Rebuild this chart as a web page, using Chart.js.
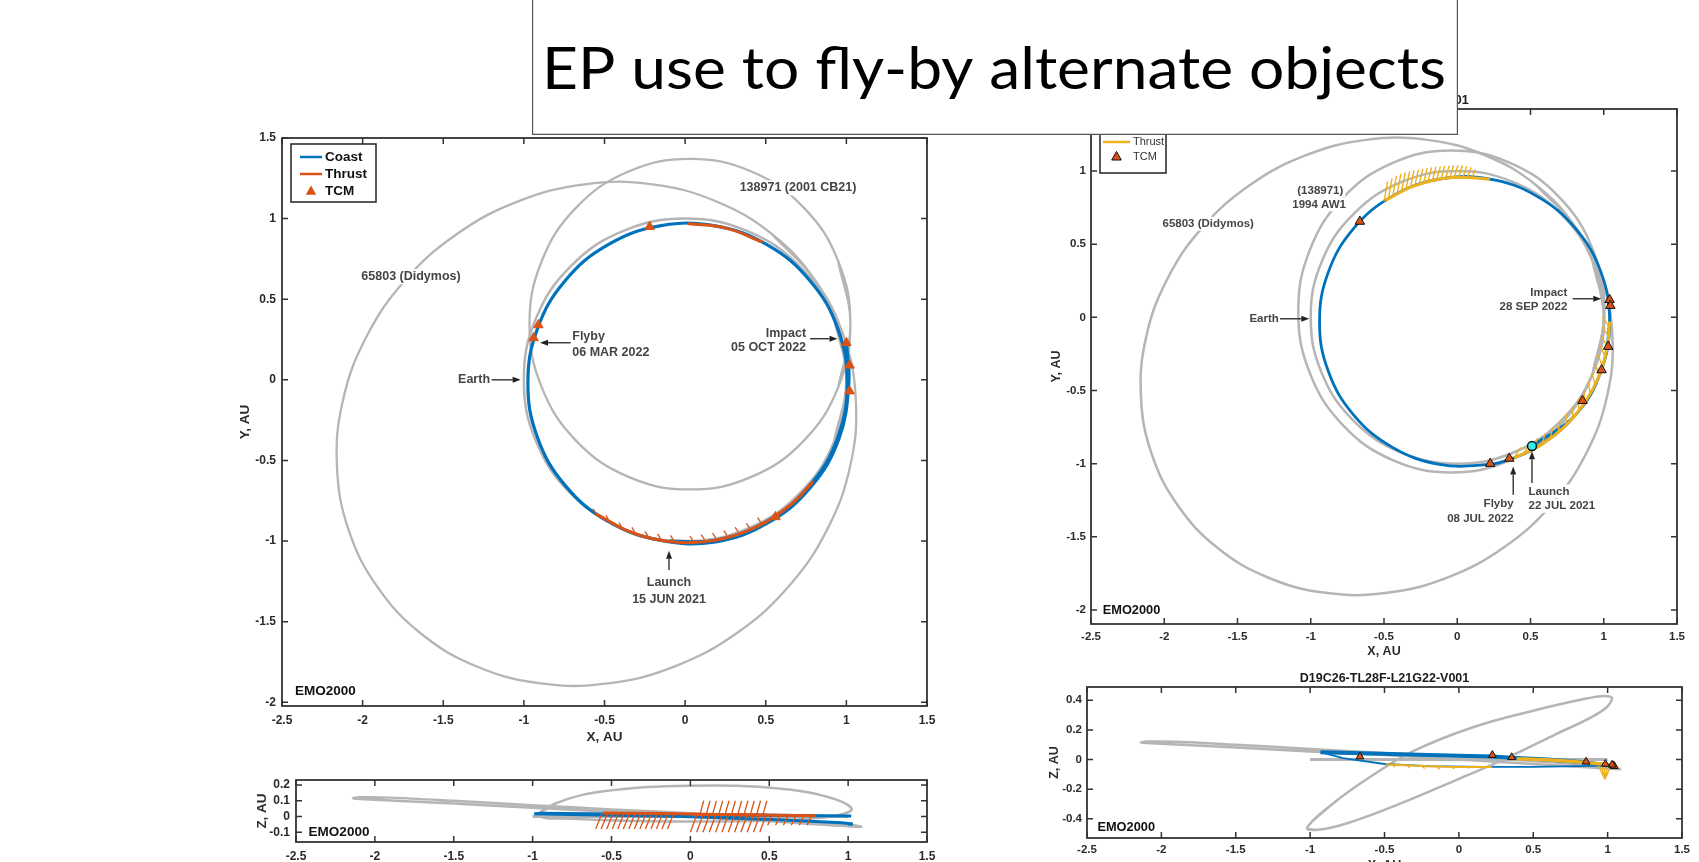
<!DOCTYPE html>
<html>
<head>
<meta charset="utf-8">
<script src="https://cdn.jsdelivr.net/npm/chart.js@4/dist/chart.umd.min.js"></script>
<style>
  html, body { margin: 0; padding: 0; background: #fff; }
  body { width: 1699px; height: 862px; overflow: hidden; position: relative; }
  canvas { position: absolute; }
</style>
</head>
<body>
<canvas id="xyL"></canvas>
<canvas id="xzL"></canvas>
<canvas id="xyR"></canvas>
<canvas id="xzR"></canvas>
<canvas id="head"></canvas>
<script>
// ---- tick labels ----
const xTicks = [-2.5, -2, -1.5, -1, -0.5, 0, 0.5, 1, 1.5];
const yTicksL = [-2, -1.5, -1, -0.5, 0, 0.5, 1, 1.5];
const yTicksR = [-2, -1.5, -1, -0.5, 0, 0.5, 1];
const zTicksL = [-0.1, 0, 0.1, 0.2];
const zTicksR = [-0.4, -0.2, 0, 0.2, 0.4];

// ---- orbits shared by both panels (AU, EMO2000) ----
const earthX = [1.000, 0.924, 0.707, 0.383, 0.000, -0.383, -0.707, -0.924, -1.000, -0.924, -0.707, -0.383, 0.000, 0.383, 0.707, 0.924, 1.000];
const earthY = [0.000, 0.383, 0.707, 0.924, 1.000, 0.924, 0.707, 0.383, 0.000, -0.383, -0.707, -0.924, -1.000, -0.924, -0.707, -0.383, 0.000];
const earthZx = [-1.00, 1.00];
const earthZz = [0.00, 0.00];
const didyX = [0.807, 0.537, 0.190, -0.204, -0.622, -1.036, -1.417, -1.739, -1.979, -2.123, -2.159, -2.086, -1.907, -1.637, -1.292, -0.897, -0.478, -0.064, 0.317, 0.639, 0.879, 1.023, 1.059, 0.986, 0.807];
const didyY = [0.616, 0.905, 1.108, 1.213, 1.213, 1.107, 0.903, 0.615, 0.262, -0.132, -0.540, -0.933, -1.286, -1.575, -1.778, -1.883, -1.883, -1.777, -1.573, -1.285, -0.932, -0.538, -0.131, 0.263, 0.616];
const didyZx = [1.08, 0.50, 0.00, -0.50, -1.00, -1.50, -1.90, -2.10, -2.14, -2.10, -1.90, -1.50, -1.00, -0.50, 0.00, 0.50, 1.00, 1.08];
const didyZz = [-0.065, -0.030, 0.000, 0.030, 0.055, 0.082, 0.102, 0.112, 0.115, 0.122, 0.120, 0.100, 0.072, 0.045, 0.020, -0.010, -0.050, -0.065];

// ---- left panel: 138971 (2001 CB21) ----
const cbX = [1.025, 0.949, 0.734, 0.411, 0.030, -0.351, -0.674, -0.889, -0.965, -0.889, -0.674, -0.351, 0.030, 0.411, 0.734, 0.949, 1.025];
const cbY = [0.345, 0.737, 1.070, 1.292, 1.370, 1.292, 1.070, 0.737, 0.345, -0.047, -0.380, -0.602, -0.680, -0.602, -0.380, -0.047, 0.345];
const cbZx = [-0.96, -0.85, -0.55, 0.00, 0.59, 0.93, 1.02, 0.80, 0.30, -0.30, -0.75, -0.96];
const cbZz = [0.005, 0.085, 0.160, 0.196, 0.175, 0.106, 0.040, -0.010, -0.030, -0.030, -0.015, 0.005];

const coastLX = [-0.100, 0.187, 0.510, 0.773, 0.946, 1.005, 0.946, 0.773, 0.510, 0.187, -0.157, -0.480, -0.743, -0.915, -0.975, -0.915, -0.743, -0.480, -0.157, 0.189, 0.515, 0.781, 0.955, 1.015, 1.000];
const coastLY = [-1.000, -0.995, -0.877, -0.656, -0.359, -0.020, 0.319, 0.616, 0.837, 0.955, 0.955, 0.837, 0.616, 0.319, -0.020, -0.359, -0.656, -0.877, -0.995, -1.005, -0.886, -0.663, -0.362, -0.020, 0.240];
const coastLZx = [-0.10, 0.55, 1.02, 0.55, -0.05, -0.62, -0.94, -0.99, -0.60, -0.05, 0.55, 0.96, 1.03, 1.00];
const coastLZz = [0.008, 0.006, 0.003, 0.008, 0.012, 0.018, 0.020, 0.018, 0.010, 0.000, -0.020, -0.040, -0.048, -0.050];

const thrL1X = [-0.553, -0.324, -0.071, 0.187, 0.433, 0.651, 0.795];
const thrL1Y = [-0.831, -0.950, -1.006, -0.995, -0.917, -0.778, -0.630];
const thrL2X = [0.015, 0.255, 0.480];
const thrL2Y = [0.970, 0.941, 0.854];
const thrL1Zz = [0.022, 0.020, 0.017, 0.013, 0.010, 0.007, 0.005];
const thrL2Zz = [0.012, 0.012, 0.010];

// thrust direction marks (base -> tip)
const hLx0 = [-0.55, -0.47, -0.39, -0.31, -0.23, -0.15, -0.07, 0.05, 0.12, 0.19, 0.26, 0.33, 0.40, 0.47];
const hLy0 = [-0.84, -0.88, -0.92, -0.95, -0.97, -0.99, -1.00, -1.00, -0.99, -0.98, -0.965, -0.945, -0.92, -0.885];
const hLx1 = [-0.57, -0.49, -0.41, -0.33, -0.25, -0.17, -0.09, 0.03, 0.10, 0.17, 0.24, 0.31, 0.38, 0.45];
const hLy1 = [-0.80, -0.84, -0.885, -0.915, -0.94, -0.955, -0.965, -0.97, -0.96, -0.95, -0.935, -0.915, -0.89, -0.855];

const hLZx0 = [-0.56, -0.525, -0.49, -0.455, -0.42, -0.385, -0.35, -0.315, -0.28, -0.245, -0.21, -0.175, -0.14, -0.105,
  0.06, 0.10, 0.14, 0.18, 0.22, 0.26, 0.30, 0.34, 0.38, 0.42, 0.46,
  0.04, 0.08, 0.12, 0.16, 0.20, 0.24, 0.28, 0.32, 0.36, 0.40, 0.44, 0.48,
  0.52, 0.57, 0.62, 0.67, 0.72, 0.77];
const hLZz0 = [0.02, 0.02, 0.02, 0.02, 0.02, 0.02, 0.02, 0.02, 0.02, 0.02, 0.02, 0.02, 0.02, 0.02,
  0.012, 0.012, 0.012, 0.012, 0.012, 0.012, 0.012, 0.012, 0.012, 0.012, 0.012,
  0.01, 0.01, 0.01, 0.01, 0.01, 0.01, 0.01, 0.01, 0.01, 0.01, 0.01, 0.01,
  0.008, 0.008, 0.008, 0.008, 0.008, 0.008];
const hLZx1 = [-0.60, -0.565, -0.53, -0.495, -0.46, -0.425, -0.39, -0.355, -0.32, -0.285, -0.25, -0.215, -0.18, -0.145,
  0.085, 0.125, 0.165, 0.205, 0.245, 0.285, 0.325, 0.365, 0.405, 0.445, 0.485,
  0.00, 0.04, 0.08, 0.12, 0.16, 0.20, 0.24, 0.28, 0.32, 0.36, 0.40, 0.44,
  0.49, 0.54, 0.59, 0.64, 0.69, 0.74];
const hLZz1 = [-0.08, -0.08, -0.08, -0.08, -0.08, -0.08, -0.08, -0.08, -0.08, -0.08, -0.08, -0.08, -0.08, -0.08,
  0.10, 0.10, 0.10, 0.10, 0.10, 0.10, 0.10, 0.10, 0.10, 0.10, 0.10,
  -0.10, -0.10, -0.10, -0.10, -0.10, -0.10, -0.10, -0.10, -0.10, -0.10, -0.10, -0.10,
  -0.055, -0.055, -0.055, -0.055, -0.055, -0.055];

const tcmLX = [-0.22, -0.91, -0.94, 1.00, 1.02, 1.02, 0.56];
const tcmLY = [0.95, 0.34, 0.26, 0.23, 0.09, -0.07, -0.85];

// ---- right panel: (138971) 1994 AW1 ----
const awX = [1.005, 0.926, 0.699, 0.360, -0.040, -0.440, -0.779, -1.006, -1.085, -1.006, -0.779, -0.440, -0.040, 0.360, 0.699, 0.926, 1.005];
const awY = [0.040, 0.461, 0.818, 1.056, 1.140, 1.056, 0.818, 0.461, 0.040, -0.381, -0.738, -0.976, -1.060, -0.976, -0.738, -0.381, 0.040];
const awZx = [-1.02, -0.85, -0.60, -0.30, 0.10, 0.50, 0.85, 0.98, 1.03, 0.95, 0.65, 0.30, 0.00, -0.40, -0.75, -0.95, -1.02];
const awZz = [-0.46, -0.30, -0.12, 0.06, 0.22, 0.33, 0.41, 0.43, 0.41, 0.32, 0.17, 0.00, -0.13, -0.30, -0.43, -0.475, -0.46];

const coastRX = [0.510, 0.808, 0.981, 1.040, 0.981, 0.808, 0.545, 0.222, -0.122, -0.445, -0.708, -0.880, -0.940, -0.880, -0.708, -0.445, -0.122, 0.222, 0.356, 0.545, 0.808, 0.981, 1.040, 1.029];
const coastRY = [-0.880, -0.666, -0.369, -0.030, 0.309, 0.606, 0.827, 0.945, 0.945, 0.827, 0.606, 0.309, -0.030, -0.369, -0.666, -0.887, -1.005, -1.005, -0.971, -0.887, -0.666, -0.369, -0.030, 0.118];
// X-Z view: outbound leg (launch -> far side) and return leg (far side -> impact)
const coastRZax = [0.51, 0.855, 1.04, 0.80, 0.50, 0.17, -0.20, -0.50, -0.78, -0.93];
const coastRZaz = [0.005, -0.020, -0.040, -0.045, -0.050, -0.050, -0.045, -0.030, 0.010, 0.050];
const coastRZbx = [-0.93, -0.72, -0.40, 0.00, 0.225, 0.355, 0.60, 0.855, 1.04];
const coastRZbz = [0.050, 0.045, 0.035, 0.025, 0.020, 0.012, 0.000, -0.020, -0.045];

const thrR1X = [0.389, 0.575, 0.738, 0.871, 0.968, 1.025, 1.040];
const thrR1Y = [-0.961, -0.870, -0.742, -0.583, -0.401, -0.202, -0.030];
const thrR2X = [0.222, -0.036, -0.289, -0.489];
const thrR2Y = [0.945, 0.956, 0.900, 0.800];
const thrR1Zz = [0.005, -0.002, -0.012, -0.022, -0.031, -0.038, -0.042];
const thrR2Zz = [-0.050, -0.050, -0.042, -0.032];

const hRx0 = [-0.50, -0.47, -0.44, -0.41, -0.38, -0.35, -0.32, -0.29, -0.26, -0.23, -0.20, -0.17, -0.14, -0.11, -0.08, -0.05, -0.02, 0.01, 0.04, 0.07, 0.10,
  0.389, 0.453, 0.514, 0.575, 0.632, 0.687, 0.738, 0.786, 0.830, 0.871, 0.907, 0.940, 0.968, 0.991, 1.010, 1.025, 1.035, 1.039];
const hRy0 = [0.793, 0.812, 0.830, 0.847, 0.862, 0.876, 0.888, 0.900, 0.910, 0.920, 0.928, 0.935, 0.942, 0.947, 0.951, 0.955, 0.958, 0.959, 0.960, 0.960, 0.959,
  -0.961, -0.935, -0.904, -0.870, -0.831, -0.788, -0.742, -0.692, -0.640, -0.583, -0.525, -0.464, -0.401, -0.336, -0.270, -0.202, -0.134, -0.065];
const hRx1 = [-0.475, -0.445, -0.415, -0.385, -0.355, -0.325, -0.295, -0.265, -0.235, -0.205, -0.175, -0.145, -0.115, -0.085, -0.055, -0.025, 0.005, 0.035, 0.065, 0.095, 0.125,
  0.433, 0.491, 0.548, 0.603, 0.654, 0.703, 0.748, 0.791, 0.829, 0.864, 0.895, 0.921, 0.944, 0.962, 0.976, 0.985, 0.989, 0.989];
const hRy1 = [0.930, 0.950, 0.965, 0.980, 0.990, 1.000, 1.005, 1.010, 1.015, 1.020, 1.025, 1.030, 1.030, 1.035, 1.035, 1.040, 1.040, 1.040, 1.035, 1.025, 1.010,
  -0.889, -0.860, -0.827, -0.790, -0.750, -0.706, -0.659, -0.609, -0.555, -0.500, -0.442, -0.383, -0.320, -0.257, -0.194, -0.129, -0.063, 0.003];

const hRZx0 = [0.94, 0.96, 0.98, 1.00, 1.02, -0.45, -0.35, -0.25, -0.15, -0.05, 0.05];
const hRZz0 = [-0.045, -0.045, -0.048, -0.050, -0.050, -0.033, -0.038, -0.043, -0.047, -0.049, -0.050];
const hRZx1 = [0.975, 0.978, 0.980, 0.983, 0.988, -0.43, -0.33, -0.23, -0.13, -0.03, 0.07];
const hRZz1 = [-0.120, -0.130, -0.135, -0.130, -0.120, -0.050, -0.055, -0.060, -0.065, -0.062, -0.058];

const tcmRX = [-0.665, 1.04, 1.045, 1.03, 0.985, 0.855, 0.225, 0.355];
const tcmRY = [0.655, 0.12, 0.08, -0.20, -0.36, -0.57, -1.00, -0.965];
const tcmRZz = [0.020, -0.040, -0.045, -0.035, -0.030, -0.015, 0.030, 0.015];
const launchRX = [0.51];
const launchRY = [-0.88];

// ---- styling ----
const FONT = '"Liberation Sans", Arial, sans-serif';
const GREY = '#b5b5b5', BLUE = '#0072bd', ORANGE = '#d95319', YELLOW = '#edb120', INK = '#2b2b2b';

const pts = (xs, ys) => xs.map((x, i) => ({x, y: ys[i]}));
// closed orbit: repeat a neighbour at each end so the spline has no corner where it closes
const ring = (xs, ys) => { const p = pts(xs, ys); return [p[p.length - 2], ...p, p[1]]; };
const segs = (x0, y0, x1, y1) => {
  const out = [];
  x0.forEach((x, i) => out.push({x, y: y0[i]}, {x: x1[i], y: y1[i]}, {x: x1[i], y: null}));
  return out;
};
const line = (data, color, width, tension) => ({
  data, showLine: true, borderColor: color, borderWidth: width, pointRadius: 0,
  tension: tension || 0, fill: false
});
const marks = (data, style, r, fill, edge, bw) => ({
  data, showLine: false, pointStyle: style, pointRadius: r, backgroundColor: fill,
  borderColor: edge, borderWidth: bw
});

function axis(dir, min, max, ticks, size, pad, title, fs, tfs) {
  return {
    type: 'linear', position: dir === 'x' ? 'bottom' : 'left', min, max,
    afterBuildTicks: s => { s.ticks = ticks.map(v => ({value: v})); },
    afterFit: s => { if (dir === 'x') s.height = size; else s.width = size; },
    grid: {display: false, drawTicks: false, tickLength: 0},
    border: {display: false},
    ticks: {
      autoSkip: false, maxRotation: 0, padding: pad, color: INK,
      font: {family: FONT, size: fs, weight: 'bold'},
      callback: v => String(+(+v).toFixed(2))
    },
    title: {display: !!title, text: title || '', padding: 0, color: INK,
      font: {family: FONT, size: tfs, weight: 'bold'}}
  };
}

function decor(c) {
  return {
    id: 'decor',
    afterDatasetsDraw(chart) {
      const {ctx, chartArea: a, scales: {x, y}} = chart;
      const X = v => x.getPixelForValue(v), Y = v => y.getPixelForValue(v);
      ctx.save();
      // text notes
      (c.notes || []).forEach(n => {
        const fs = n.fs || c.noteSize;
        ctx.font = 'bold ' + fs + 'px ' + FONT;
        const w = ctx.measureText(n.t).width;
        const px = X(n.x), py = Y(n.y);
        const x0 = n.a === 'left' ? px : n.a === 'right' ? px - w : px - w / 2;
        if (!n.nobg) { ctx.fillStyle = '#fff'; ctx.fillRect(x0 - 2, py - fs * 0.6, w + 4, fs * 1.2); }
        ctx.fillStyle = n.c || '#454545';
        ctx.textAlign = n.a; ctx.textBaseline = 'middle';
        ctx.fillText(n.t, px, py);
      });
      // arrows
      ctx.strokeStyle = '#222'; ctx.fillStyle = '#222'; ctx.lineWidth = 1.3;
      (c.arrows || []).forEach(([ax, ay, bx, by]) => {
        const x0 = X(ax), y0 = Y(ay), x1 = X(bx), y1 = Y(by);
        const ang = Math.atan2(y1 - y0, x1 - x0), L = 8, W = 3;
        ctx.beginPath(); ctx.moveTo(x0, y0);
        ctx.lineTo(x1 - L * Math.cos(ang), y1 - L * Math.sin(ang)); ctx.stroke();
        ctx.beginPath(); ctx.moveTo(x1, y1);
        ctx.lineTo(x1 - L * Math.cos(ang) + W * Math.sin(ang), y1 - L * Math.sin(ang) - W * Math.cos(ang));
        ctx.lineTo(x1 - L * Math.cos(ang) - W * Math.sin(ang), y1 - L * Math.sin(ang) + W * Math.cos(ang));
        ctx.closePath(); ctx.fill();
      });
      // frame with inward ticks on all sides
      ctx.strokeStyle = '#333'; ctx.lineWidth = 1.8;
      ctx.strokeRect(a.left, a.top, a.right - a.left, a.bottom - a.top);
      ctx.lineWidth = 1.5; ctx.beginPath();
      const tl = c.tickLen || 6;
      x.ticks.forEach(t => {
        const p = X(t.value);
        ctx.moveTo(p, a.bottom); ctx.lineTo(p, a.bottom - tl);
        ctx.moveTo(p, a.top); ctx.lineTo(p, a.top + tl);
      });
      y.ticks.forEach(t => {
        const p = Y(t.value);
        ctx.moveTo(a.left, p); ctx.lineTo(a.left + tl, p);
        ctx.moveTo(a.right, p); ctx.lineTo(a.right - tl, p);
      });
      ctx.stroke();
      // legend box
      if (c.legend) {
        const g = c.legend, bx = a.left + g.x, by = a.top + g.y;
        ctx.fillStyle = '#fff'; ctx.fillRect(bx, by, g.w, g.h);
        ctx.strokeStyle = '#222'; ctx.lineWidth = 1.5; ctx.strokeRect(bx, by, g.w, g.h);
        ctx.font = g.font + ' ' + FONT; ctx.textAlign = 'left'; ctx.textBaseline = 'middle';
        g.items.forEach(it => {
          const yy = by + it.ry;
          if (it.k === 'line') {
            ctx.strokeStyle = it.c; ctx.lineWidth = 2.5;
            ctx.beginPath(); ctx.moveTo(bx + g.lx0, yy); ctx.lineTo(bx + g.lx1, yy); ctx.stroke();
          } else {
            const cx = bx + (g.lx0 + g.lx1) / 2, r = g.tri;
            ctx.fillStyle = it.c;
            ctx.beginPath(); ctx.moveTo(cx, yy - r); ctx.lineTo(cx + r * 0.87, yy + r * 0.55);
            ctx.lineTo(cx - r * 0.87, yy + r * 0.55); ctx.closePath(); ctx.fill();
            if (it.e) { ctx.strokeStyle = it.e; ctx.lineWidth = 1; ctx.stroke(); }
          }
          ctx.fillStyle = g.color; ctx.fillText(it.t, bx + g.tx, yy);
        });
      }
      // plot title
      if (c.title) {
        ctx.font = 'bold 12.5px ' + FONT; ctx.fillStyle = '#1a1a1a';
        ctx.textAlign = 'center'; ctx.textBaseline = 'middle';
        ctx.fillText(c.title, (a.left + a.right) / 2, a.top - 8);
      }
      ctx.restore();
    }
  };
}

function makeChart(id, g, c) {
  const cv = document.getElementById(id);
  const w = g.ml + (g.r - g.l) + g.mr, h = g.mt + (g.b - g.t) + g.mb;
  cv.width = w; cv.height = h;
  cv.style.left = (g.l - g.ml) + 'px'; cv.style.top = (g.t - g.mt) + 'px';
  cv.style.width = w + 'px'; cv.style.height = h + 'px';
  return new Chart(cv, {
    type: 'scatter',
    data: {datasets: c.datasets},
    options: {
      responsive: false, animation: false, devicePixelRatio: 1,
      layout: {padding: {left: 0, top: g.mt, right: g.mr, bottom: 0}},
      plugins: {legend: {display: false}, tooltip: {enabled: false}, title: {display: false}},
      scales: {
        x: axis('x', -2.5, 1.5, xTicks, g.mb, c.xPad, c.xTitle, c.fs, c.tfs),
        y: axis('y', c.yMin, c.yMax, c.yTicks, g.ml, c.yPad, c.yTitle, c.fs, c.tfs)
      }
    },
    plugins: [decor(c)]
  });
}

// ---- left X-Y ----
makeChart('xyL', {l: 282, r: 927, t: 138, b: 706, ml: 45, mt: 20, mr: 20, mb: 39}, {
  yMin: -2.023, yMax: 1.5, yTicks: yTicksL, xPad: 7, yPad: 6, fs: 12, tfs: 13.5,
  xTitle: 'X, AU', yTitle: 'Y, AU', noteSize: 12.5,
  datasets: [
    marks(pts(tcmLX, tcmLY), 'triangle', 5.5, ORANGE, ORANGE, 1),
    line(segs(hLx0, hLy0, hLx1, hLy1), ORANGE, 1.3),
    line(pts(thrL1X, thrL1Y), ORANGE, 3, 0.4),
    line(pts(thrL2X, thrL2Y), ORANGE, 3, 0.4),
    line(pts(coastLX, coastLY), BLUE, 3.2, 0.4),
    line(ring(earthX, earthY), GREY, 2.5, 0.4),
    line(ring(cbX, cbY), GREY, 2.3, 0.4),
    line(ring(didyX, didyY), GREY, 2.3, 0.4)
  ],
  notes: [
    {t: '138971 (2001 CB21)', x: 0.70, y: 1.19, a: 'center'},
    {t: '65803 (Didymos)', x: -1.70, y: 0.64, a: 'center'},
    {t: 'Flyby', x: -0.70, y: 0.27, a: 'left'},
    {t: '06 MAR 2022', x: -0.70, y: 0.17, a: 'left'},
    {t: 'Impact', x: 0.75, y: 0.29, a: 'right'},
    {t: '05 OCT 2022', x: 0.75, y: 0.20, a: 'right'},
    {t: 'Earth', x: -1.21, y: 0.0, a: 'right'},
    {t: 'Launch', x: -0.10, y: -1.26, a: 'center'},
    {t: '15 JUN 2021', x: -0.10, y: -1.36, a: 'center'},
    {t: 'EMO2000', x: -2.42, y: -1.93, a: 'left', fs: 13.5, c: '#111', nobg: true}
  ],
  arrows: [[-0.71, 0.23, -0.90, 0.23], [0.775, 0.255, 0.945, 0.255], [-1.20, 0.0, -1.02, 0.0], [-0.10, -1.18, -0.10, -1.06]],
  legend: {x: 9, y: 6, w: 85, h: 58, font: 'bold 13.5px', color: '#111', lx0: 9, lx1: 31, tx: 34, tri: 6,
    items: [{k: 'line', c: BLUE, t: 'Coast', ry: 13}, {k: 'line', c: ORANGE, t: 'Thrust', ry: 30}, {k: 'tri', c: ORANGE, t: 'TCM', ry: 47.5}]}
});

// ---- left X-Z ----
makeChart('xzL', {l: 296, r: 927, t: 780, b: 842, ml: 42, mt: 20, mr: 20, mb: 20}, {
  yMin: -0.162, yMax: 0.232, yTicks: zTicksL, xPad: 7, yPad: 6, fs: 12, tfs: 13.5,
  yTitle: 'Z, AU', noteSize: 12.5,
  datasets: [
    line(segs(hLZx0, hLZz0, hLZx1, hLZz1), ORANGE, 1.3),
    line(pts(thrL1X, thrL1Zz), ORANGE, 3, 0.3),
    line(pts(thrL2X, thrL2Zz), ORANGE, 3, 0.3),
    line(pts(coastLZx, coastLZz), BLUE, 3, 0),
    line(pts(earthZx, earthZz), GREY, 3, 0),
    line(ring(cbZx, cbZz), GREY, 2.5, 0.4),
    line(ring(didyZx, didyZz), GREY, 2.5, 0.3)
  ],
  notes: [{t: 'EMO2000', x: -2.42, y: -0.102, a: 'left', fs: 13.5, c: '#111', nobg: true}]
});

// ---- right X-Y ----
makeChart('xyR', {l: 1091, r: 1677, t: 109, b: 624, ml: 42, mt: 20, mr: 20, mb: 35}, {
  yMin: -2.096, yMax: 1.424, yTicks: yTicksR, xPad: 6, yPad: 5, fs: 11.5, tfs: 12.5,
  xTitle: 'X, AU', yTitle: 'Y, AU', noteSize: 11.5, title: 'D19C26-TL28F-L21G22-V001',
  datasets: [
    marks(pts(launchRX, launchRY), 'circle', 4.5, '#35eded', '#111', 1.5),
    marks(pts(tcmRX, tcmRY), 'triangle', 5.5, ORANGE, '#111', 1),
    line(segs(hRx0, hRy0, hRx1, hRy1), YELLOW, 1.4),
    line(pts(thrR1X, thrR1Y), YELLOW, 3, 0.4),
    line(pts(thrR2X, thrR2Y), YELLOW, 3, 0.4),
    line(pts(coastRX, coastRY), BLUE, 2.8, 0.4),
    line(ring(earthX, earthY), GREY, 2.5, 0.4),
    line(ring(awX, awY), GREY, 2.5, 0.4),
    line(ring(didyX, didyY), GREY, 2.5, 0.4)
  ],
  notes: [
    {t: '65803 (Didymos)', x: -1.70, y: 0.64, a: 'center'},
    {t: '(138971)', x: -0.935, y: 0.868, a: 'center'},
    {t: '1994 AW1', x: -0.943, y: 0.772, a: 'center'},
    {t: 'Earth', x: -1.218, y: -0.01, a: 'right'},
    {t: 'Impact', x: 0.751, y: 0.167, a: 'right'},
    {t: '28 SEP 2022', x: 0.751, y: 0.071, a: 'right'},
    {t: 'Flyby', x: 0.385, y: -1.276, a: 'right'},
    {t: '08 JUL 2022', x: 0.385, y: -1.377, a: 'right'},
    {t: 'Launch', x: 0.487, y: -1.19, a: 'left'},
    {t: '22 JUL 2021', x: 0.487, y: -1.289, a: 'left'},
    {t: 'EMO2000', x: -2.42, y: -2.005, a: 'left', fs: 12.8, c: '#111', nobg: true}
  ],
  arrows: [[-1.21, -0.01, -1.01, -0.01], [0.788, 0.127, 0.983, 0.127], [0.382, -1.213, 0.382, -1.02], [0.51, -1.132, 0.51, -0.916]],
  legend: {x: 9, y: 4, w: 66, h: 60, font: '11px', color: '#333', lx0: 3, lx1: 30, tx: 33, tri: 5.5,
    items: [{k: 'line', c: BLUE, t: 'Coast', ry: 13}, {k: 'line', c: YELLOW, t: 'Thrust', ry: 29}, {k: 'tri', c: ORANGE, e: '#111', t: 'TCM', ry: 44}]}
});

// ---- right X-Z ----
makeChart('xzR', {l: 1087, r: 1682, t: 687, b: 838, ml: 40, mt: 20, mr: 15, mb: 35}, {
  yMin: -0.53, yMax: 0.49, yTicks: zTicksR, xPad: 5, yPad: 5, fs: 11.5, tfs: 12.5,
  xTitle: 'X, AU', yTitle: 'Z, AU', noteSize: 11.5, title: 'D19C26-TL28F-L21G22-V001',
  datasets: [
    marks(pts(tcmRX, tcmRZz), 'triangle', 4.5, ORANGE, '#111', 1),
    line(segs(hRZx0, hRZz0, hRZx1, hRZz1), YELLOW, 1.4),
    line(pts(thrR1X, thrR1Zz), YELLOW, 3.5, 0.3),
    line(pts(thrR2X, thrR2Zz), YELLOW, 2, 0.3),
    line(pts(coastRZbx, coastRZbz), BLUE, 4, 0),
    line(pts(coastRZax, coastRZaz), BLUE, 1.8, 0),
    line(pts(earthZx, earthZz), GREY, 3, 0),
    line(ring(awZx, awZz), GREY, 2.5, 0.4),
    line(ring(didyZx, didyZz), GREY, 2.5, 0.3)
  ],
  notes: [{t: 'EMO2000', x: -2.43, y: -0.46, a: 'left', fs: 12.8, c: '#111', nobg: true}]
});

// ---- slide heading box ----
(function () {
  const cv = document.getElementById('head');
  const L = 532, T = 0, W = 926, H = 135;
  cv.width = W; cv.height = H;
  cv.style.left = L + 'px'; cv.style.top = T + 'px';
  const ctx = cv.getContext('2d');
  ctx.fillStyle = '#fff'; ctx.fillRect(0, 0, W, H);
  ctx.strokeStyle = '#555'; ctx.lineWidth = 1.2;
  ctx.beginPath(); ctx.moveTo(0.6, 0); ctx.lineTo(0.6, H - 0.6); ctx.lineTo(W - 0.6, H - 0.6); ctx.lineTo(W - 0.6, 0); ctx.stroke();
  const text = 'EP use to fly-by alternate objects';
  ctx.font = '58.5px Lato, "Open Sans", sans-serif';
  const k = 904 / ctx.measureText(text).width;
  ctx.save();
  ctx.translate(462, 88.8); ctx.scale(k, 1);
  ctx.fillStyle = '#000'; ctx.textAlign = 'center'; ctx.textBaseline = 'alphabetic';
  ctx.fillText(text, 0, 0);
  ctx.restore();
})();
</script>
</body>
</html>
